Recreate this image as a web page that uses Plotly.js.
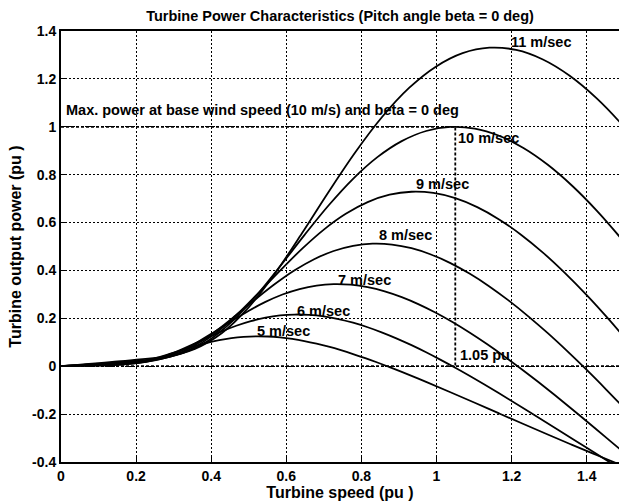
<!DOCTYPE html>
<html>
<head>
<meta charset="utf-8">
<script src="https://cdn.plot.ly/plotly-3.0.1.min.js"></script>
<style>html,body{margin:0;padding:0;background:#fff;}#chart{width:619px;height:503px;}</style>
</head>
<body>
<div id="chart"></div>
<script>
// ---- data ----
const windLabels = ['5 m/sec', '6 m/sec', '7 m/sec', '8 m/sec', '9 m/sec', '10 m/sec', '11 m/sec'];

const speed5 = [0, 0.0648, 0.1296, 0.1620, 0.1944, 0.2269, 0.2593, 0.2917, 0.3241, 0.3565, 0.3889, 0.4213, 0.4537, 0.4861, 0.5185, 0.5509, 0.5834, 0.6158, 0.6482, 0.6806, 0.7130, 0.7454, 0.7778, 0.8102, 0.8426, 0.8750, 0.9074, 0.9723, 1.0371, 1.1019, 1.1667, 1.2315, 1.2963, 1.3612, 1.4260, 1.4908];
const power5 = [0, 0.0018, 0.0039, 0.0068, 0.0129, 0.0230, 0.0365, 0.0522, 0.0685, 0.0840, 0.0978, 0.1091, 0.1175, 0.1228, 0.1249, 0.1241, 0.1203, 0.1139, 0.1052, 0.0942, 0.0814, 0.0669, 0.0509, 0.0337, 0.0154, -0.0038, -0.0238, -0.0654, -0.1086, -0.1527, -0.1971, -0.2414, -0.2853, -0.3285, -0.3709, -0.4124];

const speed6 = [0, 0.0778, 0.1556, 0.1945, 0.2333, 0.2722, 0.3111, 0.3500, 0.3889, 0.4278, 0.4667, 0.5056, 0.5445, 0.5834, 0.6222, 0.6611, 0.7000, 0.7389, 0.7778, 0.8167, 0.8556, 0.8945, 0.9334, 0.9723, 1.0112, 1.0500, 1.0889, 1.1667, 1.2445, 1.3223, 1.4001, 1.4778];
const power6 = [0, 0.0031, 0.0068, 0.0117, 0.0223, 0.0397, 0.0631, 0.0901, 0.1183, 0.1452, 0.1691, 0.1886, 0.2030, 0.2122, 0.2159, 0.2144, 0.2079, 0.1969, 0.1817, 0.1628, 0.1406, 0.1155, 0.0879, 0.0582, 0.0265, -0.0066, -0.0411, -0.1130, -0.1877, -0.2638, -0.3406, -0.4171];

const speed7 = [0, 0.0907, 0.1815, 0.2269, 0.2722, 0.3176, 0.3630, 0.4083, 0.4537, 0.4991, 0.5445, 0.5898, 0.6352, 0.6806, 0.7260, 0.7713, 0.8167, 0.8621, 0.9074, 0.9528, 0.9982, 1.0436, 1.0889, 1.1343, 1.1797, 1.2250, 1.2704, 1.3612, 1.4519, 1.5426];
const power7 = [0, 0.0049, 0.0108, 0.0186, 0.0354, 0.0630, 0.1001, 0.1431, 0.1878, 0.2306, 0.2685, 0.2995, 0.3224, 0.3370, 0.3428, 0.3404, 0.3301, 0.3126, 0.2885, 0.2585, 0.2233, 0.1834, 0.1396, 0.0924, 0.0422, -0.0105, -0.0652, -0.1795, -0.2980, -0.4190];

const speed8 = [0, 0.1037, 0.2074, 0.2593, 0.3111, 0.3630, 0.4148, 0.4667, 0.5185, 0.5704, 0.6222, 0.6741, 0.7260, 0.7778, 0.8297, 0.8815, 0.9334, 0.9852, 1.0371, 1.0889, 1.1408, 1.1926, 1.2445, 1.2964, 1.3482, 1.4001, 1.4519, 1.5038];
const power8 = [0, 0.0073, 0.0161, 0.0278, 0.0528, 0.0941, 0.1495, 0.2137, 0.2804, 0.3442, 0.4007, 0.4470, 0.4813, 0.5030, 0.5117, 0.5082, 0.4928, 0.4666, 0.4307, 0.3859, 0.3333, 0.2738, 0.2084, 0.1379, 0.0629, -0.0157, -0.0974, -0.1816];

const speed9 = [0, 0.1167, 0.2333, 0.2917, 0.3500, 0.4083, 0.4667, 0.5250, 0.5834, 0.6417, 0.7000, 0.7584, 0.8167, 0.8750, 0.9334, 0.9917, 1.0500, 1.1084, 1.1667, 1.2250, 1.2834, 1.3417, 1.4001, 1.4584, 1.5167];
const power9 = [0, 0.0104, 0.0229, 0.0396, 0.0752, 0.1340, 0.2128, 0.3042, 0.3992, 0.4900, 0.5706, 0.6365, 0.6853, 0.7162, 0.7286, 0.7235, 0.7017, 0.6644, 0.6132, 0.5494, 0.4746, 0.3899, 0.2968, 0.1963, 0.0896];

const speed10 = [0, 0.1296, 0.2593, 0.3241, 0.3889, 0.4537, 0.5185, 0.5834, 0.6482, 0.7130, 0.7778, 0.8426, 0.9074, 0.9723, 1.0371, 1.1019, 1.1667, 1.2315, 1.2964, 1.3612, 1.4260, 1.4908, 1.5556];
const power10 = [0, 0.0142, 0.0314, 0.0543, 0.1032, 0.1838, 0.2919, 0.4173, 0.5476, 0.6722, 0.7827, 0.8731, 0.9400, 0.9824, 0.9995, 0.9925, 0.9625, 0.9114, 0.8412, 0.7537, 0.6510, 0.5348, 0.4071];

const speed11 = [0, 0.1426, 0.2852, 0.3565, 0.4278, 0.4991, 0.5704, 0.6417, 0.7130, 0.7843, 0.8556, 0.9269, 0.9982, 1.0695, 1.1408, 1.2121, 1.2834, 1.3547, 1.4260, 1.4973, 1.5686];
const power11 = [0, 0.0189, 0.0418, 0.0723, 0.1374, 0.2446, 0.3885, 0.5554, 0.7289, 0.8947, 1.0418, 1.1621, 1.2511, 1.3076, 1.3303, 1.3210, 1.2811, 1.2131, 1.1196, 1.0032, 0.8665];

// curve label anchor points (left edge, vertical middle)
const labelX = [0.519, 0.627, 0.735, 0.845, 0.942, 1.054, 1.196];
const labelY = [0.147, 0.231, 0.360, 0.548, 0.761, 0.952, 1.354];

// reference lines
const baseSpeed = 1.05;
const maxPower = 1;
const speedEnd = 1.6;

const xTickVals = [0, 0.2, 0.4, 0.6, 0.8, 1, 1.2, 1.4];
const xTickText = ['0', '0.2', '0.4', '0.6', '0.8', '1', '1.2', '1.4'];
const yTickVals = [-0.4, -0.2, 0, 0.2, 0.4, 0.6, 0.8, 1, 1.2, 1.4];
const yTickText = ['-0.4', '-0.2', '0', '0.2', '0.4', '0.6', '0.8', '1', '1.2', '1.4'];

// ---- build chart ----
const FONT = 'Liberation Sans, Arial, Helvetica, sans-serif';
const speeds = [speed5, speed6, speed7, speed8, speed9, speed10, speed11];
const powers = [power5, power6, power7, power8, power9, power10, power11];

const traces = [];
// dashed reference lines
traces.push({
  x: [0, speedEnd], y: [0, 0], mode: 'lines', type: 'scatter',
  line: {color: '#000', width: 1.8, dash: '3px,2px'}, hoverinfo: 'skip'
});
traces.push({
  x: [0, baseSpeed, baseSpeed], y: [maxPower, maxPower, 0], mode: 'lines', type: 'scatter',
  line: {color: '#000', width: 1.8, dash: '3px,2px'}, hoverinfo: 'skip'
});
for (let i = 0; i < speeds.length; i++) {
  traces.push({
    x: speeds[i], y: powers[i], mode: 'lines', type: 'scatter', name: windLabels[i],
    line: {color: '#000', width: 1.8, shape: 'spline', smoothing: 1}
  });
}

const annFont = {family: FONT, size: 14.5, color: '#000', weight: 'bold'};
const annotations = windLabels.map((t, i) => ({
  x: labelX[i], y: labelY[i], xref: 'x', yref: 'y', text: t, showarrow: false,
  xanchor: 'left', yanchor: 'middle', font: annFont, borderpad: 0
}));
annotations.push({
  x: 0.01, y: 1.07, xref: 'x', yref: 'y',
  text: 'Max. power at base wind speed (10 m/s) and beta = 0 deg',
  showarrow: false, xanchor: 'left', yanchor: 'middle', font: annFont, borderpad: 0
});
annotations.push({
  x: 1.06, y: 0.047, xref: 'x', yref: 'y', text: '1.05 pu',
  showarrow: false, xanchor: 'left', yanchor: 'middle', font: annFont, borderpad: 0
});

const axisCommon = {
  showgrid: true, gridcolor: '#000', gridwidth: 1, griddash: '2px,2px',
  showline: true, linecolor: '#000', linewidth: 2,
  ticks: 'inside', ticklen: 5, tickcolor: '#000', tickwidth: 1,
  zeroline: false, fixedrange: true,
  tickfont: {family: FONT, size: 14, color: '#000', weight: 'bold'}
};

const layout = {
  width: 619, height: 503,
  margin: {l: 61, r: 0, t: 31, b: 41},
  paper_bgcolor: '#fff', plot_bgcolor: '#fff',
  showlegend: false, hovermode: false,
  title: {
    text: 'Turbine Power Characteristics (Pitch angle beta = 0 deg)',
    font: {family: FONT, size: 14.5, color: '#000', weight: 'bold'},
    x: 0.5, xref: 'paper', xanchor: 'center',
    y: 1 - 16 / 503, yref: 'container', yanchor: 'middle'
  },
  xaxis: Object.assign({}, axisCommon, {
    range: [0, 1.486], tickmode: 'array', tickvals: xTickVals, ticktext: xTickText,
    mirror: true,
    title: {text: 'Turbine speed (pu )', font: {family: FONT, size: 16, color: '#000', weight: 'bold'}, standoff: 2}
  }),
  yaxis: Object.assign({}, axisCommon, {
    range: [-0.4, 1.4], tickmode: 'array', tickvals: yTickVals, ticktext: yTickText,
    mirror: false,
    title: {text: 'Turbine output power (pu )', font: {family: FONT, size: 16, color: '#000', weight: 'bold'}, standoff: 6}
  }),
  annotations: annotations
};

Plotly.newPlot('chart', traces, layout, {staticPlot: true, displayModeBar: false});
</script>
</body>
</html>
